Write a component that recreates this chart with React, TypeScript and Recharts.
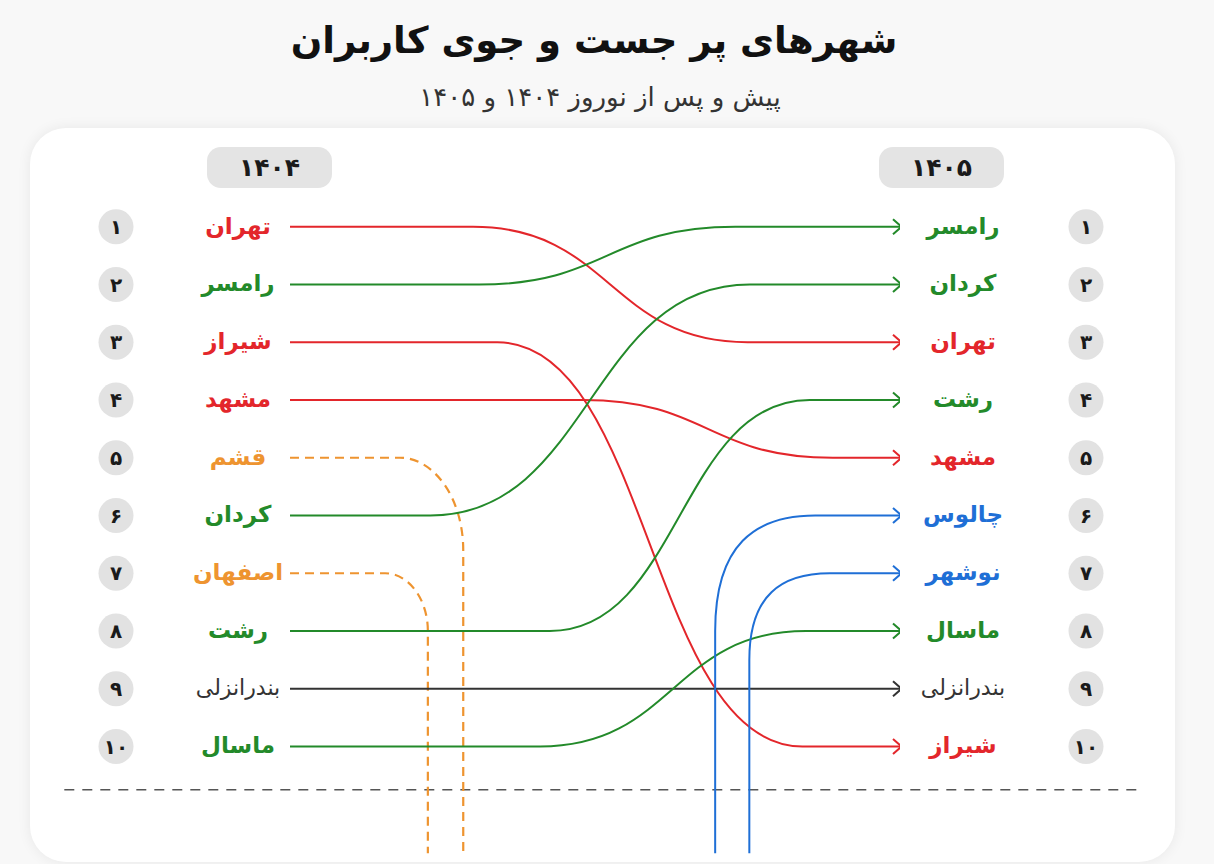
import React from "react";
import { ComposedChart, Line, XAxis, YAxis, ReferenceLine } from "recharts";

const FONT = '"DejaVu Sans", "Noto Sans", sans-serif';

// cities, their rank before (1404) and after (1405) Nowruz; null = not in top 10
const cities = ["تهران", "رامسر", "شیراز", "مشهد", "قشم", "کردان", "اصفهان", "رشت", "بندرانزلی", "ماسال", "چالوس", "نوشهر"];
const rank1404 = [1, 2, 3, 4, 5, 6, 7, 8, 9, 10, null, null];
const rank1405 = [3, 1, 10, 5, null, 2, null, 4, 9, 8, 6, 7];
const trend = ["down", "up", "down", "down", "out", "up", "out", "up", "same", "up", "new", "new"];

// where each link starts and ends its bend, in % of the way from 1404 to 1405
const bendFrom = [30, 31, 34, 48, 18, 23, 15.6, 42.6, 0, 41, 69.7, 75.3];
const bendTo = [75, 73, 84, 89, 28.4, 75.4, 22.6, 85.2, 100, 84.6, 86.1, 88.5];
// rank at which the dropped / new cities turn between vertical and horizontal
const turnRank = [null, null, null, null, 6.6, null, 8.0, null, null, null, 8.0, 8.5];
const FLOOR = 11.85;

const rankTicks = [1, 2, 3, 4, 5, 6, 7, 8, 9, 10];

const trendColor: Record<string, string> = {
  up: "#238a2a",
  down: "#e3262b",
  same: "#333333",
  out: "#ee9430",
  new: "#1f6fd6",
};

const faDigits = (n: number) => String(n).replace(/\d/g, (d) => "۰۱۲۳۴۵۶۷۸۹"[+d]);

// horizontal -> vertical (hv) or vertical -> horizontal (vh) rounded corner
function corner(mode: "hv" | "vh", kv: number, kh: number) {
  return (context: any) => {
    let x0 = NaN;
    let y0 = NaN;
    let started = false;
    return {
      areaStart() {},
      areaEnd() {},
      lineStart() {
        started = false;
      },
      lineEnd() {},
      point(x: number, y: number) {
        x = +x;
        y = +y;
        if (!started) {
          context.moveTo(x, y);
          started = true;
        } else if (x === x0 || y === y0) {
          context.lineTo(x, y);
        } else if (mode === "hv") {
          context.bezierCurveTo(x0 + kh * (x - x0), y0, x, y - kv * (y - y0), x, y);
        } else {
          context.bezierCurveTo(x0, y0 + kv * (y - y0), x - kh * (x - x0), y, x, y);
        }
        x0 = x;
        y0 = y;
      },
    };
  };
}

const series = cities.map((city, i) => {
  const a = rank1404[i];
  const b = rank1405[i];
  let pts: { x: number; y: number }[];
  let curve: any = "bumpX";
  if (a != null && b != null) {
    pts =
      a === b
        ? [{ x: 0, y: a }, { x: 100, y: b }]
        : [{ x: 0, y: a }, { x: bendFrom[i], y: a }, { x: bendTo[i], y: b }, { x: 100, y: b }];
  } else if (b == null) {
    pts = [
      { x: 0, y: a as number },
      { x: bendFrom[i], y: a as number },
      { x: bendTo[i], y: turnRank[i] as number },
      { x: bendTo[i], y: FLOOR },
    ];
    curve = corner("hv", 0.55, 0.55);
  } else {
    pts = [
      { x: bendFrom[i], y: FLOOR },
      { x: bendFrom[i], y: turnRank[i] as number },
      { x: bendTo[i], y: b },
      { x: 100, y: b },
    ];
    curve = corner("vh", 0.75, 0.6);
  }
  return { city, pts, curve, color: trendColor[trend[i]], dashed: trend[i] === "out" };
});

function RankTick({ x, y, payload, side }: any) {
  const r = payload.value as number;
  const ranks = side === "left" ? rank1404 : rank1405;
  const i = ranks.indexOf(r);
  const cx = side === "left" ? x - 174 : x + 186;
  const tx = side === "left" ? x - 52 : x + 63;
  const plain = trend[i] === "same";
  return (
    <g>
      <circle cx={cx} cy={y} r={17.5} fill="#e2e2e2" />
      <text x={cx} y={y} dy="0.36em" textAnchor="middle" fontSize={20} fontWeight="bold" fill="#1a1a1a" fontFamily={FONT}>
        {faDigits(r)}
      </text>
      <text
        x={tx}
        y={y}
        dy="0.3em"
        textAnchor="middle"
        fontSize={plain ? 22 : 23}
        fontWeight={plain ? "normal" : "bold"}
        fill={trendColor[trend[i]]}
        fontFamily={FONT}
      >
        {cities[i]}
      </text>
    </g>
  );
}

function YearPill({ left, label }: { left: number; label: string }) {
  return (
    <div
      style={{
        position: "absolute",
        left,
        top: 147,
        width: 125,
        height: 41,
        borderRadius: 14,
        background: "#e4e4e4",
        fontFamily: FONT,
        fontWeight: "bold",
        fontSize: 25,
        lineHeight: "41px",
        textAlign: "center",
        color: "#1a1a1a",
      }}
    >
      {label}
    </div>
  );
}

export default function App() {
  return (
    <div style={{ position: "absolute", left: 0, top: 0, width: 1214, height: 864, background: "#f8f8f8", overflow: "hidden" }}>
      <div
        style={{
          position: "absolute",
          left: 0,
          top: 9,
          width: 1188,
          textAlign: "center",
          direction: "rtl",
          fontFamily: FONT,
          fontWeight: "bold",
          fontSize: 37,
          lineHeight: "64px",
          color: "#111",
        }}
      >
        شهرهای پر جست و جوی کاربران
      </div>
      <div
        style={{
          position: "absolute",
          left: 0,
          top: 80,
          width: 1200,
          textAlign: "center",
          direction: "rtl",
          fontFamily: FONT,
          fontSize: 26,
          lineHeight: "34px",
          color: "#333",
        }}
      >
        پیش و پس از نوروز ۱۴۰۴ و ۱۴۰۵
      </div>
      <div
        style={{
          position: "absolute",
          left: 30,
          top: 128,
          width: 1145,
          height: 734,
          borderRadius: 36,
          background: "#ffffff",
          boxShadow: "0 0 14px rgba(0,0,0,0.07)",
        }}
      />
      <YearPill left={207} label="۱۴۰۴" />
      <YearPill left={879} label="۱۴۰۵" />
      <div style={{ position: "absolute", left: 0, top: 0 }}>
        <ComposedChart width={1214} height={864} margin={{ top: 169, right: 0, bottom: 2, left: 0 }}>
          <XAxis type="number" dataKey="x" domain={[0, 100]} allowDataOverflow hide />
          <YAxis
            yAxisId="l"
            type="number"
            orientation="left"
            width={290}
            domain={[0, 12]}
            reversed
            allowDataOverflow
            ticks={rankTicks}
            interval={0}
            axisLine={false}
            tickLine={false}
            tickSize={0}
            tickMargin={0}
            tick={(p: any) => <RankTick {...p} side="left" />}
          />
          <YAxis
            yAxisId="r"
            type="number"
            orientation="right"
            width={314}
            domain={[0, 12]}
            reversed
            allowDataOverflow
            ticks={rankTicks}
            interval={0}
            axisLine={false}
            tickLine={false}
            tickSize={0}
            tickMargin={0}
            tick={(p: any) => <RankTick {...p} side="right" />}
          />
          <ReferenceLine
            yAxisId="l"
            segment={[
              { x: -37, y: 10.75 },
              { x: 139, y: 10.75 },
            ]}
            stroke="#555"
            strokeWidth={1.6}
            strokeDasharray="10 8"
            ifOverflow="visible"
          />
          {series.map((s) => (
            <Line
              key={s.city}
              yAxisId="l"
              data={s.pts}
              dataKey="y"
              type={s.curve}
              stroke={s.color}
              strokeWidth={s.dashed ? 2.2 : 2}
              strokeDasharray={s.dashed ? "9 6" : undefined}
              isAnimationActive={false}
              activeDot={false}
              dot={(p: any) =>
                !s.dashed && p.index === s.pts.length - 1 ? (
                  <polyline
                    key={p.index}
                    points={`${p.cx - 7},${p.cy - 7.5} ${p.cx + 1.5},${p.cy} ${p.cx - 7},${p.cy + 7.5}`}
                    fill="none"
                    stroke={s.color}
                    strokeWidth={2}
                  />
                ) : (
                  <g key={p.index} />
                )
              }
            />
          ))}
        </ComposedChart>
      </div>
    </div>
  );
}
